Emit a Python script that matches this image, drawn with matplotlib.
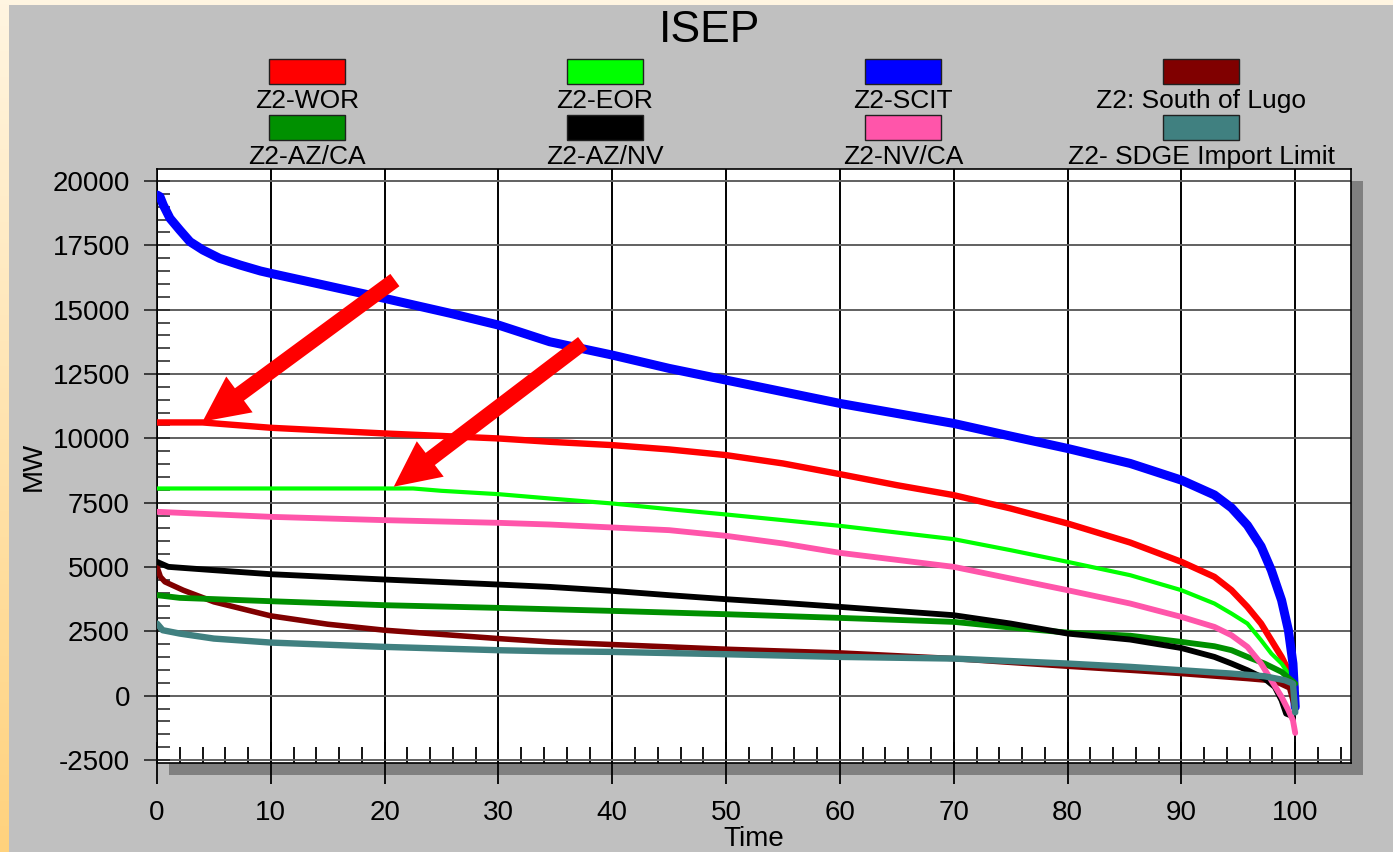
import numpy as np
import matplotlib
matplotlib.use("Agg")
import matplotlib.pyplot as plt
from matplotlib.patches import Rectangle, FancyArrowPatch, ArrowStyle

plt.rcParams['font.family'] = ['Liberation Sans', 'DejaVu Sans']

# ---------------- data ----------------
series_names = ["Z2-WOR", "Z2-EOR", "Z2-SCIT", "Z2: South of Lugo",
                "Z2-AZ/CA", "Z2-AZ/NV", "Z2-NV/CA", "Z2- SDGE Import Limit"]
series_colors = ["#FF0000", "#00FF00", "#0000FF", "#800000",
                 "#009000", "#000000", "#FF55AA", "#408080"]

wor_x = [0, 4, 10, 20, 30, 34.5, 40, 45, 50, 55, 60, 65, 70, 75, 80, 85.5, 90, 92.9, 94.4, 95.8, 97, 97.9, 98.8, 99.4, 99.9, 100]
wor_y = [10617, 10617, 10410, 10189, 9995, 9865, 9736, 9568, 9347, 9023, 8608, 8180, 7792, 7273, 6690, 5950, 5200, 4616, 4098, 3450, 2802, 2154, 1506, 988, 599, 300]

eor_x = [0, 22.5, 25, 30, 34.5, 40, 45, 50, 55, 60, 70, 75, 80, 85.5, 90, 92.9, 94.4, 95.8, 97, 97.9, 98.8, 99.6, 100]
eor_y = [8051, 8051, 7960, 7830, 7662, 7468, 7247, 7040, 6820, 6599, 6081, 5653, 5200, 4681, 4098, 3580, 3191, 2802, 2154, 1636, 1248, 728, 469]

scit_x = [0, 0.26, 0.55, 1.14, 2.0, 2.9, 4.04, 5.5, 7.3, 9.1, 10, 14, 20, 25.8, 30, 34.5, 40, 45, 50, 55, 60, 65, 70, 75, 80, 85.5, 90, 92.9, 94.4, 95.8, 97, 97.9, 98.8, 99.4, 99.8, 100]
scit_y = [19456, 19390, 19067, 18549, 18095, 17640, 17317, 16994, 16734, 16501, 16410, 16021, 15438, 14855, 14401, 13753, 13235, 12717, 12263, 11809, 11356, 10967, 10578, 10086, 9606, 9024, 8375, 7800, 7300, 6620, 5800, 4876, 3709, 2543, 1248, -440]

lugo_x = [0, 0.3, 0.7, 2.3, 5, 10, 15, 20, 30, 34.5, 40, 50, 60, 70, 80, 85.5, 90, 95.8, 98.2, 99.5, 100]
lugo_y = [5005, 4616, 4422, 4098, 3645, 3100, 2776, 2543, 2218, 2089, 1986, 1804, 1661, 1441, 1143, 988, 858, 664, 573, 300, -500]

azca_x = [0, 2, 10, 20, 30, 34.5, 40, 50, 60, 70, 75, 80, 85.5, 90, 92.9, 94.4, 95.8, 97.3, 98.8, 100]
azca_y = [3904, 3800, 3670, 3515, 3411, 3359, 3294, 3165, 3022, 2867, 2647, 2450, 2330, 2089, 1921, 1766, 1506, 1248, 923, 469]

aznv_x = [0, 1, 5, 10, 20, 30, 34.5, 40, 45, 50, 55, 60, 70, 75, 80, 85.5, 90, 92.9, 94.4, 95.8, 97.3, 98.2, 98.8, 99.2, 99.5]
aznv_y = [5200, 5005, 4876, 4720, 4513, 4318, 4227, 4072, 3904, 3748, 3606, 3450, 3126, 2802, 2413, 2180, 1850, 1506, 1248, 988, 664, 340, -179, -697, -750]

nvca_x = [0, 10, 20, 30, 34.5, 40, 45, 50, 55, 60, 70, 80, 85.5, 90, 92.9, 94.4, 95.8, 97, 97.9, 98.8, 99.4, 99.8, 100]
nvca_y = [7144, 6949, 6820, 6716, 6651, 6535, 6431, 6210, 5913, 5550, 5005, 4098, 3580, 3061, 2672, 2348, 1895, 1248, 599, -49, -568, -960, -1450]

sdge_x = [0, 0.5, 2, 5, 10, 20, 30, 34.5, 40, 50, 60, 70, 80, 85.5, 90, 94.4, 97.3, 99.1, 99.8, 100]
sdge_y = [2802, 2543, 2413, 2218, 2063, 1895, 1766, 1726, 1700, 1610, 1506, 1441, 1247, 1118, 988, 858, 754, 599, 469, -650]

series_x = [wor_x, eor_x, scit_x, lugo_x, azca_x, aznv_x, nvca_x, sdge_x]
series_y = [wor_y, eor_y, scit_y, lugo_y, azca_y, aznv_y, nvca_y, sdge_y]
series_lw = [4.6, 3.0, 6.5, 4.0, 4.2, 4.2, 4.2, 4.6]

x_ticks = list(range(0, 101, 10))
y_ticks = list(range(-2500, 20001, 2500))

# arrows (tail -> head) in data coordinates
arrow_tails = [(20.9, 16150), (37.4, 13700)]
arrow_heads = [(4.0, 10650), (20.8, 8120)]

# ---------------- figure ----------------
W, H = 1393, 852
fig = plt.figure(figsize=(W / 100, H / 100), dpi=100)

bg = fig.add_axes([0, 0, 1, 1], zorder=-10)
bg.set_xlim(0, W)
bg.set_ylim(H, 0)
bg.axis('off')
top_c = np.array([255, 245, 225]) / 255
bot_c = np.array([255, 210, 125]) / 255
t = np.linspace(0, 1, 200)[:, None]
grad = (top_c[None, :] * (1 - t) + bot_c[None, :] * t)[:, None, :]
bg.imshow(grad, extent=[0, W, H, 0], aspect='auto', zorder=0)
bg.add_patch(Rectangle((9, 5), W - 9, H - 5, facecolor='#C0C0C0', edgecolor='none', zorder=1))
# drop shadow
bg.add_patch(Rectangle((169, 181), 1194, 594, facecolor='#808080', edgecolor='none', zorder=2))

# title
bg.text(710, 31, "ISEP", fontsize=32, ha='center', va='center', zorder=5)

# legend
for i, (name, col) in enumerate(zip(series_names, series_colors)):
    c = i % 4
    r = i // 4
    cx = 307 + 298 * c
    bg.add_patch(Rectangle((cx - 38, 59 + 56 * r), 76, 25, facecolor=col,
                           edgecolor='#202020', lw=1.0, zorder=5))
    bg.text(cx, 101 + 56 * r, name, fontsize=19, ha='center', va='center', zorder=5)

ax = fig.add_axes([157 / W, (H - 763) / H, 1194 / W, 594 / H], zorder=1)
ax.set_facecolor('white')
ax.set_xlim(0, 104.9)
ax.set_ylim(-2617, 20466)

for xs, ys, col, lw in zip(series_x, series_y, series_colors, series_lw):
    ax.plot(xs, ys, color=col, lw=lw, solid_capstyle='round', solid_joinstyle='round', zorder=3)

for (tx, ty), (hx, hy) in zip(arrow_tails, arrow_heads):
    ar = FancyArrowPatch((tx, ty), (hx, hy),
                         arrowstyle=ArrowStyle.Simple(head_length=33, head_width=32, tail_width=11),
                         mutation_scale=1, facecolor='#FF0000', edgecolor='none', lw=0,
                         shrinkA=0, shrinkB=0, zorder=10)
    ax.add_patch(ar)

ax.set_xticks(x_ticks)
ax.set_xticks(np.arange(0, 105, 2), minor=True)
ax.set_yticks(y_ticks)
ax.set_yticks(np.arange(-2500, 20001, 500), minor=True)
ax.set_xticklabels([str(v) for v in x_ticks])
ax.set_yticklabels([str(v) for v in y_ticks])

ax.tick_params(axis='x', which='major', direction='inout', length=30, width=1.3,
               labelsize=20, pad=12, color='black')
ax.tick_params(axis='x', which='minor', direction='in', length=11.5, width=1.3, color='black')
ax.tick_params(axis='y', which='major', direction='inout', length=19, width=1.3,
               labelsize=20, pad=10, color='#303030')
ax.tick_params(axis='y', which='minor', direction='in', length=9.4, width=1.3, color='#404040')

ax.set_axisbelow(True)
ax.grid(axis='x', which='major', color='black', lw=1.4)
ax.grid(axis='y', which='major', color='#606060', lw=1.4)
for s in ax.spines.values():
    s.set_color('black')
    s.set_linewidth(1.2)

ax.set_xlabel("Time", fontsize=20, labelpad=0)
ax.set_ylabel("MW", fontsize=20, labelpad=4)

fig.savefig("out.png", dpi=100)
